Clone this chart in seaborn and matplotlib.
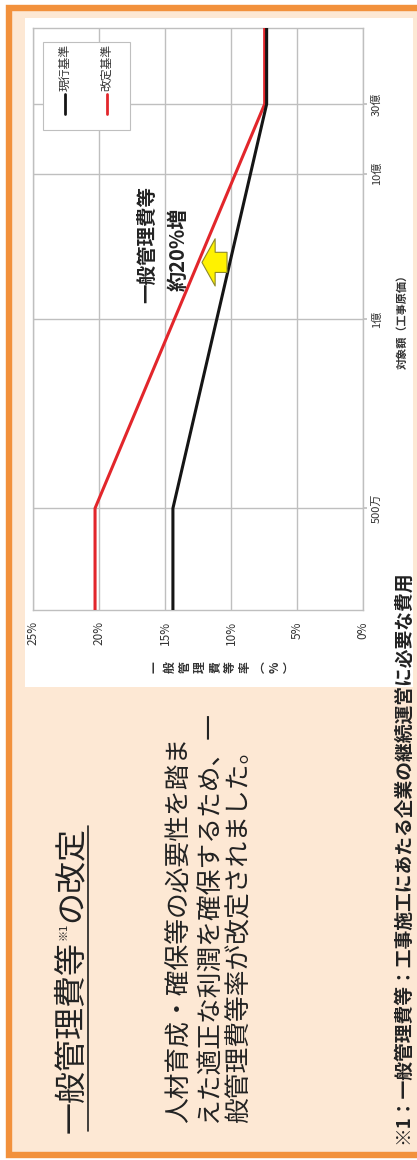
import numpy as np
import pandas as pd
import matplotlib
matplotlib.use("Agg")
import matplotlib.pyplot as plt
import seaborn as sns
from matplotlib.patches import Rectangle
from matplotlib.lines import Line2D
from matplotlib.ticker import NullLocator

# ---------------- data ----------------
amounts = [1e6, 5e6, 3e9, 1e10]            # 対象額（工事原価）[円]
rate_current = [14.4, 14.4, 7.3, 7.3]      # 現行基準 [%]
rate_revised = [20.3, 20.3, 7.45, 7.45]    # 改定基準 [%]
series_names = ["現行基準", "改定基準"]
x_ticks = [0, 5, 10, 15, 20, 25]
x_tick_labels = ["0%", "5%", "10%", "15%", "20%", "25%"]
y_ticks = [5e6, 1e8, 1e9, 3e9]
y_tick_labels = ["500万", "1億", "10億", "30億"]

title_main = "一般管理費等"
title_note = "※1"
title_tail = "の改定"
body_lines = ["人材育成・確保等の必要性を踏ま",
              "えた適正な利潤を確保するため、一",
              "般管理費等率が改定されました。"]
footnote = "※1：一般管理費等：工事施工にあたる企業の継続運営に必要な費用"
callout_lines = ["一般管理費等", "約20%増"]
x_label = "一般管理費等率︵%︶"
y_label = "対象額（工事原価）"

# ---------------- style ----------------
sns.set_theme(style="white")
plt.rcParams['font.family'] = ['Noto Sans CJK JP', 'DejaVu Sans']

ORANGE = "#F2913C"
PEACH = "#FDE8D4"
GRID = "#BFBFBF"
RED = "#E2262B"
BLACK = "#151515"
TXT = "#222222"

W, H = 417, 1160
fig = plt.figure(figsize=(W / 100, H / 100), dpi=100, facecolor="white")


def fx(px):
    return px / W


def fy(py):
    return 1 - py / H


# outer orange frame with peach fill (open to the right)
fig.patches.append(Rectangle((fx(8.5), fy(1155)), 1.2, fy(7.5) - fy(1155),
                             transform=fig.transFigure, facecolor=PEACH,
                             edgecolor=ORANGE, linewidth=4.6, zorder=-3))
# white chart panel
fig.patches.append(Rectangle((fx(25), fy(687)), fx(413) - fx(25), fy(18) - fy(687),
                             transform=fig.transFigure, facecolor="white",
                             edgecolor="none", zorder=-2))

ax = fig.add_axes([fx(33), fy(610), fx(363) - fx(33), fy(28) - fy(610)])
ax.set_zorder(1)
ax.set_facecolor("white")
ax.set_yscale("log")

df = pd.DataFrame({
    "amount": amounts + amounts,
    "rate": rate_current + rate_revised,
    "standard": [series_names[0]] * len(amounts) + [series_names[1]] * len(amounts),
})

sns.lineplot(data=df, x="rate", y="amount", hue="standard",
             hue_order=[series_names[1], series_names[0]],
             palette={series_names[0]: BLACK, series_names[1]: RED},
             orient="y", estimator=None, errorbar=None, linewidth=2.2,
             legend=False, ax=ax, zorder=3)

ax.set_xlim(25, 0)
ax.set_ylim(1e6, 1e10)
ax.set_xticks(x_ticks, labels=x_tick_labels)
ax.set_yticks(y_ticks, labels=y_tick_labels)
ax.yaxis.set_minor_locator(NullLocator())
ax.yaxis.tick_right()
ax.grid(True, color=GRID, linewidth=1.0)
ax.set_axisbelow(True)
for s in ax.spines.values():
    s.set_color(GRID)
    s.set_linewidth(1.0)

ax.tick_params(axis="x", length=3, color=GRID, pad=5, labelsize=8.5,
               labelcolor="#333333", labelrotation=90)
ax.tick_params(axis="y", which="both", left=False, right=True, labelleft=False,
               labelright=True, length=3, color=GRID, pad=3, labelsize=8,
               labelcolor="#333333", labelrotation=90)
for lab in ax.get_yticklabels():
    lab.set_verticalalignment("center")

# axis titles
ax.set_xlabel("\n".join(x_label), rotation=90, fontsize=8.5, fontweight="bold",
              color="#333333", linespacing=1.2, ha="center", va="center",
              multialignment="center")
ax.xaxis.set_label_coords((223 - 33) / 330, (610 - 667) / 582)
ax.yaxis.set_label_position("right")
ax.set_ylabel(y_label, rotation=90, fontsize=8, fontweight="bold", color="#333333")
ax.yaxis.label.set_verticalalignment("center")
ax.yaxis.set_label_coords((402 - 33) / 330, 0.5)

# manual legend (rotated)
ax.add_patch(Rectangle((0.03, 0.825), 0.264, 0.151, transform=ax.transAxes,
                       facecolor="white", edgecolor=GRID, linewidth=0.8, zorder=5))
for xc, name, col in [(0.097, series_names[0], BLACK), (0.224, series_names[1], RED)]:
    ax.add_line(Line2D([xc, xc], [0.852, 0.887], transform=ax.transAxes,
                       color=col, linewidth=2.0, zorder=6))
    ax.text(xc, 0.891, name, transform=ax.transAxes, rotation=90, ha="center",
            va="bottom", fontsize=8.5, color="#333333", zorder=6)

# callout
ax.text(16.3, 3.24e8, callout_lines[0], rotation=90, ha="center", va="center",
        fontsize=14, fontweight="bold", color=TXT, zorder=6)
ax.text(14.0, 3.0e8, callout_lines[1], rotation=90, ha="center", va="center",
        fontsize=14.5, fontweight="bold", color=TXT, zorder=6)
ax.annotate("", xy=(12.2, 2.45e8), xytext=(10.3, 2.45e8),
            arrowprops=dict(arrowstyle="simple,head_length=0.95,head_width=3.4,tail_width=1.45",
                            mutation_scale=10, facecolor="#FFF200", edgecolor="#8E8A2A",
                            linewidth=0.8, shrinkA=0, shrinkB=0), zorder=7)

# lower text block
t1 = fig.text(fx(72), fy(1133), title_main, rotation=90, ha="center", va="bottom",
              fontsize=23, color=TXT)
fig.canvas.draw()
bb1 = t1.get_window_extent()
t2 = fig.text(fx(63), (bb1.y1 + 1) / H, title_note, rotation=90, ha="center",
              va="bottom", fontsize=8, color=TXT)
fig.canvas.draw()
bb2 = t2.get_window_extent()
t3 = fig.text(fx(72), (bb2.y1 + 1) / H, title_tail, rotation=90, ha="center",
              va="bottom", fontsize=23, color=TXT)
fig.canvas.draw()
bb3 = t3.get_window_extent()
fig.add_artist(Line2D([fx(88), fx(88)], [bb1.y0 / H + 0.002, bb3.y1 / H],
                      transform=fig.transFigure, color=TXT, linewidth=1.2))

for xc, line in zip([180, 210, 240], body_lines):
    fig.text(fx(xc), fy(1123), line, rotation=90, ha="center", va="bottom",
             fontsize=18.5, color=TXT)

fig.text(fx(403), fy(1144), footnote, rotation=90, ha="center", va="bottom",
         fontsize=13.5, fontweight="bold", color=TXT, zorder=4)

fig.savefig("out.png", dpi=100, facecolor=fig.get_facecolor())
